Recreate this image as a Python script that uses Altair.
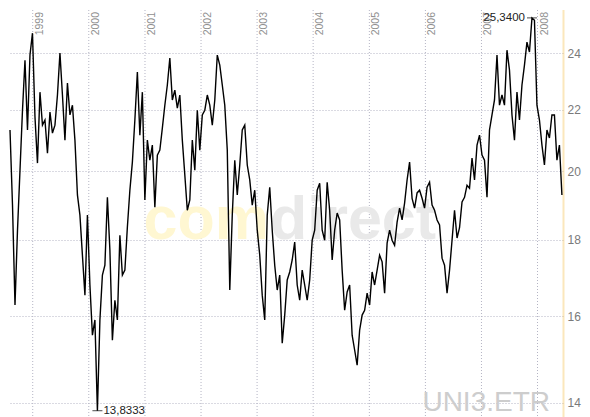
import altair as alt
import pandas as pd

# Closing prices (roughly two readings every ~16 days)
prices = [
    21.32, 18.99, 16.28, 18.27, 20.04, 21.98, 23.74, 21.32, 23.93, 24.75,
    21.75, 20.26, 22.60, 21.48, 21.65, 20.57, 21.92, 21.22, 21.48, 22.50,
    24.00, 22.50, 20.99, 22.92, 21.82, 22.15, 20.99, 19.29, 18.70, 17.58,
    16.53, 18.70, 16.79, 15.54, 15.91, 13.8333, 15.91, 17.05, 17.31, 19.22,
    17.72, 15.42, 16.40, 15.91, 18.13, 17.05, 17.18, 18.36, 19.43, 20.29,
    21.65, 23.31, 21.15, 22.60, 19.14, 20.99, 20.35, 20.83, 18.93, 20.51,
    20.67, 21.38, 22.15, 22.85, 23.82, 22.33, 22.67, 22.05, 22.50, 20.99,
    19.89, 18.84, 19.14, 20.99, 20.04, 21.98, 20.67, 21.82, 21.98, 22.50,
    22.15, 21.48, 22.33, 23.93, 23.56, 22.85, 22.15, 20.67, 16.66, 18.70,
    20.35, 19.29, 20.20, 21.32, 21.48, 20.20, 19.74, 18.99, 19.43, 18.27,
    17.58, 16.53, 15.91, 18.70, 19.52, 18.27, 17.31, 16.66, 17.05, 15.35,
    16.03, 16.92, 17.13, 17.45, 17.94, 16.79, 16.40, 17.18, 16.79, 16.40,
    16.92, 17.99, 18.27, 19.43, 19.64, 18.27, 17.99, 19.67, 18.84, 17.45,
    18.27, 18.76, 18.56, 17.18, 16.15, 16.61, 16.79, 15.54, 15.19, 14.84,
    15.66, 16.03, 16.15, 16.58, 16.28, 17.13, 16.79, 17.18, 17.58, 17.40,
    16.58, 17.91, 18.27, 17.99, 17.85, 18.50, 18.90, 18.56, 19.05, 19.74,
    20.29, 19.19, 18.90, 19.35, 19.43, 19.19, 18.90, 19.52, 19.67, 18.99,
    18.84, 18.56, 18.42, 17.50, 17.31, 16.58, 17.18, 17.99, 18.84, 18.05,
    18.34, 19.08, 19.22, 19.58, 19.49, 20.42, 19.74, 20.83, 21.15, 20.51,
    20.35, 19.22, 21.32, 21.82, 22.33, 23.93, 22.15, 22.50, 22.15, 24.11,
    23.38, 21.82, 20.99, 22.60, 21.65, 22.85, 23.56, 24.41, 24.04, 25.34,
    25.25, 22.15, 21.65, 20.83, 20.20, 21.32, 21.06, 21.82, 21.82, 20.35,
    20.83, 19.29,
]
first_date = "1998-08-06"
last_date = "2008-06-08"

years = ["1999", "2000", "2001", "2002", "2003", "2004", "2005", "2006", "2007", "2008"]
y_ticks = [14, 16, 18, 20, 22, 24]
max_label = "25,3400"
min_label = "13,8333"
symbol = "UNI3.ETR"

dates = pd.date_range(first_date, last_date, periods=len(prices))
df = pd.DataFrame({"date": dates, "price": prices})
years_df = pd.DataFrame({"date": pd.to_datetime([y + "-01-01" for y in years]), "label": years})

imax = df["price"].idxmax()
imin = df["price"].idxmin()
max_df = pd.DataFrame({"date": [df.loc[imax, "date"]], "price": [df.loc[imax, "price"]], "label": [max_label]})
min_df = pd.DataFrame({"date": [df.loc[imin, "date"]], "price": [df.loc[imin, "price"]], "label": [min_label]})

FONT = "Liberation Sans"
GRID = "#b4b4c4"

x_scale = alt.Scale(domain=[alt.DateTime(year=1998, month=8, date=6),
                            alt.DateTime(year=2008, month=6, date=15)])
y_scale = alt.Scale(type="log", domain=[13.70, 25.65], nice=False, zero=False)

year_rules = alt.Chart(years_df).mark_rule(color=GRID, strokeDash=[1, 2], strokeWidth=1).encode(
    x=alt.X("date:T", scale=x_scale, axis=None)
)
year_text = alt.Chart(years_df).mark_text(
    angle=270, align="right", baseline="top", dy=2, font=FONT, fontSize=10.5, color="#8f8f8f"
).encode(
    x=alt.X("date:T", scale=x_scale, axis=None),
    y=alt.value(2),
    text="label:N",
)

wm_com = alt.Chart(pd.DataFrame({"t": ["com"]})).mark_text(
    align="right", baseline="alphabetic", font=FONT, fontWeight="bold", fontSize=61,
    color="#fff7d2"
).encode(x=alt.value(259), y=alt.value(229), text="t:N")
wm_direct = alt.Chart(pd.DataFrame({"t": ["direct"]})).mark_text(
    align="left", baseline="alphabetic", font=FONT, fontWeight="bold", fontSize=61,
    color="#e9e9e9"
).encode(x=alt.value(260), y=alt.value(229), text="t:N")
wm_sym = alt.Chart(pd.DataFrame({"t": [symbol]})).mark_text(
    align="right", baseline="alphabetic", font=FONT, fontSize=28,
    color="#cdcdcd"
).encode(x=alt.value(540), y=alt.value(401), text="t:N")

line = alt.Chart(df).mark_line(color="black", strokeWidth=1.4).encode(
    x=alt.X("date:T", scale=x_scale, axis=None),
    y=alt.Y("price:Q", scale=y_scale, title=None,
            axis=alt.Axis(orient="right", values=y_ticks, grid=True, gridColor=GRID,
                          gridDash=[1, 2], gridWidth=1, ticks=False, domain=True,
                          domainColor="#f7cf7a", domainWidth=2, domainDash=[1, 1],
                          labelPadding=4, labelFont=FONT, labelFontSize=12,
                          labelColor="#7a7a7a", labelBaseline="middle", format="d")),
)

max_tick = alt.Chart(max_df).mark_tick(orient="horizontal", size=10, thickness=1, color="black").encode(
    x=alt.X("date:T", scale=x_scale, axis=None), y=alt.Y("price:Q", scale=y_scale))
max_text = alt.Chart(max_df).mark_text(align="right", baseline="middle", dx=-7, font=FONT,
                                       fontSize=11.5, color="#222").encode(
    x=alt.X("date:T", scale=x_scale, axis=None), y=alt.Y("price:Q", scale=y_scale), text="label:N")
min_tick = alt.Chart(min_df).mark_tick(orient="horizontal", size=10, thickness=1, color="black").encode(
    x=alt.X("date:T", scale=x_scale, axis=None), y=alt.Y("price:Q", scale=y_scale))
min_text = alt.Chart(min_df).mark_text(align="left", baseline="middle", dx=6, font=FONT,
                                       fontSize=11.5, color="#222").encode(
    x=alt.X("date:T", scale=x_scale, axis=None), y=alt.Y("price:Q", scale=y_scale), text="label:N")

chart = alt.layer(
    year_rules, wm_com, wm_direct, wm_sym, year_text, line, max_tick, max_text, min_tick, min_text
).properties(
    width=553, height=407,
    padding={"left": 2, "top": 2, "right": 19, "bottom": 0},
    autosize=alt.AutoSizeParams(type="none"),
).configure_view(stroke=None)

chart.save("out.html", embed_options={"renderer": "svg", "actions": False})
